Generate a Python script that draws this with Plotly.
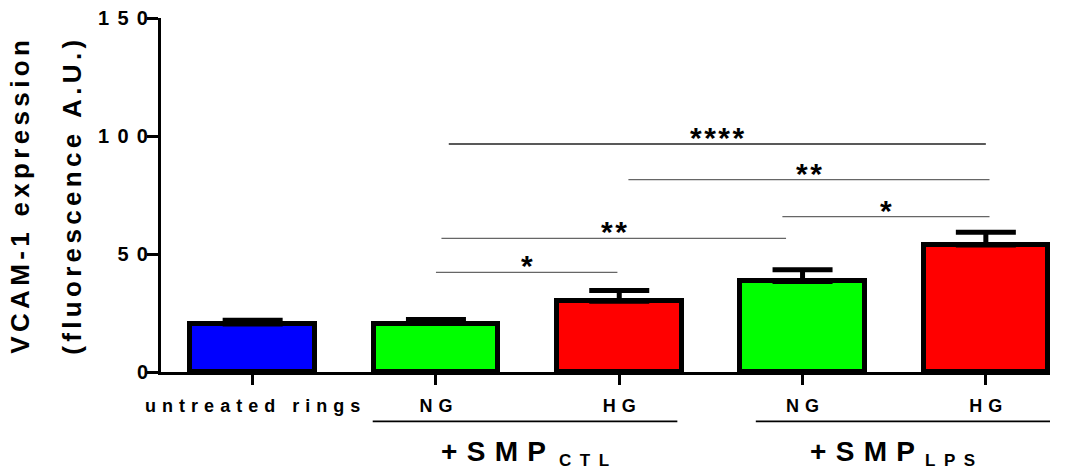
import plotly.graph_objects as go

# ---- data ----
categories = ["untreated rings", "NG", "HG", "NG", "HG"]
values = [20.3, 20.5, 30.0, 38.4, 53.8]
errors = [1.6, 1.7, 4.5, 4.9, 5.4]
bar_colors = ["#0000FF", "#00FF00", "#FF0000", "#00FF00", "#FF0000"]

y_ticks = [0, 50, 100, 150]

# significance comparisons (x spans in category-index units, level in data units)
sig_x0 = [1.07, 2.05, 2.89, 1.03, 1.00]
sig_x1 = [4.00, 4.02, 4.02, 2.91, 1.99]
sig_y = [96.6, 81.5, 65.8, 56.6, 42.2]
sig_labels = ["****", "**", "*", "**", "*"]
sig_colors = ["#222222", "#666666", "#666666", "#666666", "#666666"]

# groups under the axis
group_x0 = [0.655, 2.745]
group_x1 = [2.317, 4.35]
group_main = ["+SMP", "+SMP"]
group_sub = ["CTL", "LPS"]
group_main_right = [1.609, 3.622]
group_sub_left = [1.658, 3.655]

y_title = ["VCAM-1 expression", "(fluorescence A.U.)"]

FONT = "Liberation Sans, Arial, sans-serif"
EN = "\u2002"
THREE = "\u2004"
SIX = "\u2006"
HAIR = "\u200a"


def spaced(s, sep):
    return sep.join(list(s))


x_pos = list(range(len(categories)))

fig = go.Figure()
fig.add_trace(go.Bar(
    x=x_pos, y=values, width=0.68,
    marker=dict(color=bar_colors, line=dict(color="black", width=5)),
    error_y=dict(type="data", array=errors, arrayminus=[0] * len(errors),
                 symmetric=False, color="black", thickness=5, width=30),
    showlegend=False,
))

shapes = []
annotations = []
for x0, x1, yv, lab, col in zip(sig_x0, sig_x1, sig_y, sig_labels, sig_colors):
    shapes.append(dict(type="line", xref="x", yref="y", x0=x0, x1=x1, y0=yv, y1=yv,
                       line=dict(color=col, width=1.3)))
    annotations.append(dict(xref="x", yref="y", x=(x0 + x1) / 2, y=yv,
                            text=spaced(lab, HAIR), showarrow=False,
                            xanchor="center", yanchor="bottom", yshift=-12,
                            font=dict(family=FONT, size=30, color="black", weight="bold")))

for x0, x1 in zip(group_x0, group_x1):
    shapes.append(dict(type="line", xref="x", yref="paper", x0=x0, x1=x1,
                       y0=-0.1395, y1=-0.1395, line=dict(color="black", width=1.6)))

for m, s, xr, xl in zip(group_main, group_sub, group_main_right, group_sub_left):
    annotations.append(dict(xref="x", yref="paper", x=xr, y=-0.176, text=spaced(m, THREE),
                            showarrow=False, xanchor="right", yanchor="top",
                            font=dict(family=FONT, size=28, color="black", weight="bold")))
    annotations.append(dict(xref="x", yref="paper", x=xl, y=-0.2175, text=spaced(s, EN),
                            showarrow=False, xanchor="left", yanchor="top",
                            font=dict(family=FONT, size=17, color="black", weight="bold")))

for txt, xp in zip(y_title, [-0.158, -0.1005]):
    annotations.append(dict(xref="paper", yref="paper", x=xp, y=0.494,
                            text=spaced(txt, SIX), textangle=-90, showarrow=False,
                            xanchor="center", yanchor="middle",
                            font=dict(family=FONT, size=26, color="black", weight="bold")))

fig.update_layout(
    width=1074, height=476,
    margin=dict(l=161, r=24, t=18, b=104),
    paper_bgcolor="white", plot_bgcolor="white",
    shapes=shapes, annotations=annotations,
    font=dict(family=FONT, color="black"),
    bargap=0,
)
fig.update_xaxes(
    range=[-0.5, 4.35], tickvals=x_pos,
    ticktext=[spaced(c, THREE) for c in categories],
    showline=True, linecolor="black", linewidth=3,
    ticks="outside", ticklen=10, tickwidth=3, tickcolor="black",
    showgrid=False, zeroline=False, ticklabelstandoff=5, automargin=False,
    tickfont=dict(family=FONT, size=18, color="black", weight="bold"),
)
fig.update_yaxes(
    range=[0, 150], tickvals=y_ticks,
    ticktext=[spaced(str(t), THREE + HAIR) for t in y_ticks],
    showline=True, linecolor="black", linewidth=3,
    ticks="outside", ticklen=11, tickwidth=3, tickcolor="black",
    showgrid=False, zeroline=False, ticklabelstandoff=-5, automargin=False,
    ticklabeloverflow="allow",
    tickfont=dict(family=FONT, size=20, color="black", weight="bold"),
)

# remove the browser's default 8px body margin so the figure fills the window
fig.write_html("out.html", config={"displayModeBar": False},
               post_script="document.body.style.margin='0';")
